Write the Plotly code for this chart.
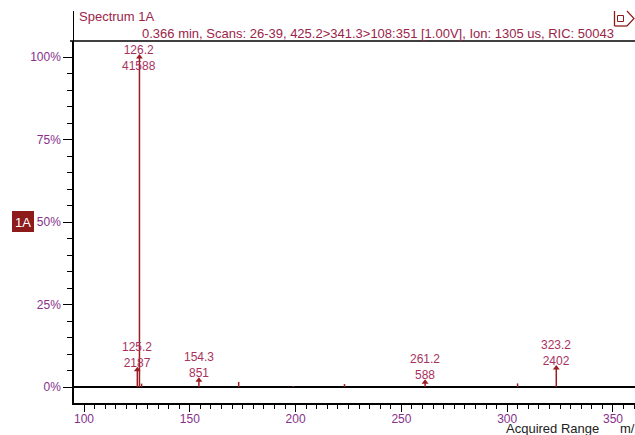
import plotly.graph_objects as go

# ---- data ----
masses = [125.2, 126.2, 127.2, 154.3, 173.1, 198.9, 223.1, 261.2, 304.9, 323.2]
counts = [2187, 41588, 420, 851, 640, 130, 370, 588, 450, 2402]
labeled = [True, True, False, True, False, False, False, True, False, True]
y_tick_vals = [0, 25, 50, 75, 100]
y_tick_text = ["0%", "25%", "50%", "75%", "100%"]
x_tick_vals = [100, 150, 200, 250, 300, 350]
title_text = "Spectrum 1A"
header_text = "0.366 min, Scans: 26-39, 425.2>341.3>108:351 [1.00V], Ion: 1305 us, RIC: 50043"

W, H = 635, 435
L, R, T, B = 74, 0, 41, 32
PW, PH = W - L - R, H - T - B

def px(x):
    return (x - L) / PW

def py(y):
    return (H - B - y) / PH

base = max(counts)
pct = [c / base * 100 for c in counts]

FONT = "Liberation Sans, Arial, sans-serif"
PEAK = "#9c1c24"
LABEL = "#a8325e"
TICKC = "#86308a"
HEAD = "#9a2449"

fig = go.Figure()

xs, ys = [], []
for m, p in zip(masses, pct):
    xs += [m, m, None]
    ys += [0, p, None]
fig.add_trace(go.Scatter(x=xs, y=ys, mode="lines", line=dict(color=PEAK, width=1.5),
                         hoverinfo="skip", showlegend=False))

am = [m for m, l in zip(masses, labeled) if l]
ap = [p for p, l in zip(pct, labeled) if l]
fig.add_trace(go.Scatter(x=am, y=ap, mode="markers",
                         marker=dict(symbol="triangle-up", size=6, color=PEAK),
                         hoverinfo="skip", showlegend=False))

annotations = []
for m, c, p, l in zip(masses, counts, pct, labeled):
    if not l:
        continue
    if p > 90:
        annotations.append(dict(x=m, y=p, xref="x", yref="y", text=f"{m}<br>{c}",
                                showarrow=False, yanchor="middle", xanchor="center", yshift=-1,
                                font=dict(size=12, color=LABEL, family=FONT)))
    else:
        annotations.append(dict(x=m, y=p, xref="x", yref="y", text=f"{m}<br>{c}",
                                showarrow=False, yanchor="bottom", xanchor="center", yshift=-2,
                                font=dict(size=12, color=LABEL, family=FONT)))

annotations += [
    dict(x=px(77), y=py(17), xref="paper", yref="paper", text=title_text, showarrow=False,
         xanchor="left", yanchor="middle", font=dict(size=13, color=HEAD, family=FONT)),
    dict(x=px(140), y=py(33), xref="paper", yref="paper", text=header_text, showarrow=False,
         xanchor="left", yanchor="middle", font=dict(size=13, color=HEAD, family=FONT)),
    dict(x=px(23), y=py(222), xref="paper", yref="paper", text="1A", showarrow=False,
         xanchor="center", yanchor="middle", font=dict(size=13, color="white", family=FONT)),
    dict(x=px(504), y=py(428), xref="paper", yref="paper", text="Acquired Range", showarrow=False,
         xanchor="left", yanchor="middle", font=dict(size=13, color="#222222", family=FONT)),
    dict(x=px(618), y=py(428), xref="paper", yref="paper", text="m/z", showarrow=False,
         xanchor="left", yanchor="middle", font=dict(size=13, color="#222222", family=FONT)),
]

shapes = [
    dict(type="line", xref="paper", yref="paper", x0=px(70), x1=1, y0=py(41), y1=py(41),
         line=dict(color="black", width=1.5)),
    dict(type="line", xref="paper", yref="paper", x0=px(73.5), x1=px(73.5), y0=py(11), y1=py(41),
         line=dict(color="black", width=1)),
    dict(type="rect", xref="paper", yref="paper", x0=px(12), x1=px(34), y0=py(232), y1=py(211),
         fillcolor="#8e1b1b", line=dict(width=0)),
    dict(type="line", xref="paper", yref="paper", x0=px(614.5), x1=px(614.5), y0=py(11), y1=py(26),
         line=dict(color="#8e1b1b", width=1.3)),
    dict(type="line", xref="paper", yref="paper", x0=px(614.5), x1=px(627), y0=py(26), y1=py(26),
         line=dict(color="#8e1b1b", width=1.3)),
    dict(type="rect", xref="paper", yref="paper", x0=px(617.5), x1=px(623.5), y0=py(21.5), y1=py(15.5),
         line=dict(color="#8e1b1b", width=1)),
    dict(type="path", xref="paper", yref="paper",
         path=f"M {px(627)},{py(11)} L {px(634)},{py(18.5)} L {px(627)},{py(26)}",
         line=dict(color="#8e1b1b", width=1.2)),
]

fig.update_layout(
    width=W, height=H,
    margin=dict(l=L, r=R, t=T, b=B, pad=0),
    plot_bgcolor="white", paper_bgcolor="white",
    font=dict(family=FONT, size=12),
    annotations=annotations, shapes=shapes,
    xaxis=dict(range=[95.27, 360.4], tickvals=x_tick_vals, showgrid=False, zeroline=False,
               showline=True, linecolor="black", linewidth=1.5,
               ticks="outside", ticklen=7, tickwidth=1.3, tickcolor="black",
               ticklabelstandoff=-3,
               tickfont=dict(size=12, color=TICKC, family=FONT),
               minor=dict(dtick=5, tick0=0, ticks="outside", ticklen=4, tickwidth=1.3, tickcolor="black",
                          showgrid=False)),
    yaxis=dict(range=[-4.85, 104.85], tickvals=y_tick_vals, ticktext=y_tick_text, showgrid=False,
               zeroline=True, zerolinecolor="black", zerolinewidth=1.5,
               showline=True, linecolor="black", linewidth=1.5,
               ticks="outside", ticklen=9, tickwidth=1.3, tickcolor="black",
               tickfont=dict(size=12, color=TICKC, family=FONT),
               minor=dict(dtick=5, tick0=0, ticks="outside", ticklen=5, tickwidth=1.3, tickcolor="black",
                          showgrid=False)),
)

fig.write_html("out.html", config={"displayModeBar": False},
               post_script="document.body.style.margin='0';")
